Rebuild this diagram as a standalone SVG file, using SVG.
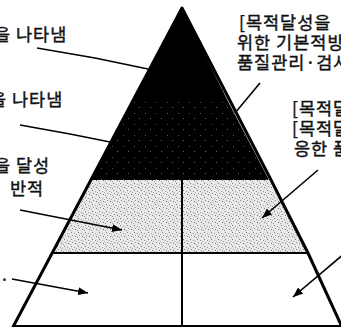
<svg xmlns="http://www.w3.org/2000/svg" width="341" height="327" viewBox="0 0 341 327">
  <defs>
    <pattern id="lightDots" width="7" height="7" patternUnits="userSpaceOnUse">
      <rect width="7" height="7" fill="#e8e8e8"/>
      <rect x="1" y="1" width="1" height="1" fill="#7a7a7a"/>
      <rect x="4" y="2" width="1" height="1" fill="#9a9a9a"/>
      <rect x="2" y="4" width="1" height="1" fill="#8a8a8a"/>
      <rect x="5" y="5" width="1" height="1" fill="#777"/>
      <rect x="6" y="3" width="1" height="1" fill="#aaa"/>
      <rect x="0" y="6" width="1" height="1" fill="#999"/>
    </pattern>
    <pattern id="darkDots" width="11" height="11" patternUnits="userSpaceOnUse">
      <rect width="11" height="11" fill="#000"/>
      <rect x="2" y="3" width="1" height="1" fill="#555"/>
      <rect x="7" y="8" width="1" height="1" fill="#666"/>
    </pattern>
    <marker id="arrow" viewBox="0 0 10 8" refX="10" refY="4" markerWidth="10" markerHeight="8" markerUnits="userSpaceOnUse" orient="auto">
      <path d="M0,0 L10,4 L0,8 Z" fill="#000"/>
    </marker>
    <style>
      .lbl { font-family: "Noto Sans CJK KR", "Liberation Sans", sans-serif; font-size: 17.5px; fill: #111; stroke: #111; stroke-width: 0.4px; letter-spacing: 1px; }
      .edge { stroke: #000; stroke-width: 3; fill: none; stroke-linecap: round; stroke-linejoin: round; }
      .div { stroke: #000; stroke-width: 2; fill: none; }
      .conn { stroke: #000; stroke-width: 1.6; fill: none; }
    </style>
  </defs>
  <rect width="341" height="327" fill="#fff"/>

  <g id="pyramid">
    <g id="tier-top">
      <polygon points="182,8 133.3,100 227.3,100" fill="#000"/>
    </g>
    <g id="tier-upper">
      <polygon points="133.3,100 227.3,100 268,178 268.5,180 90.6,180" fill="url(#darkDots)"/>
    </g>
    <g id="tier-middle">
      <polygon points="90.6,180 268.5,180 308,253 52.2,253" fill="url(#lightDots)"/>
    </g>
    <g id="tier-bottom">
      <polygon points="52.2,253 308,253 341,325 341,326 13,326" fill="#fff"/>
    </g>
    <line class="div" x1="52" y1="253" x2="308" y2="253"/>
    <line class="div" x1="13" y1="326" x2="341" y2="326"/>
    <line class="div" x1="182" y1="179" x2="182" y2="327"/>
    <polyline class="edge" points="13,327 182,8 270,178 308,253 342,327"/>
  </g>

  <g id="connectors">
    <path class="conn" d="M37,48 L95,58 L148,69"/>
    <path class="conn" d="M20,125 L70,134 L110,142"/>
    <path class="conn" d="M20,210 L122,230" marker-end="url(#arrow)"/>
    <path class="conn" d="M12,279 L88,293" marker-end="url(#arrow)"/>
    <path class="conn" d="M260,83 L235,113"/>
    <path class="conn" d="M318,170 L262,218" marker-end="url(#arrow)"/>
    <path class="conn" d="M345,253 L293,297" marker-end="url(#arrow)"/>
  </g>

  <g id="labels-left">
    <text class="lbl" x="-6" y="41">을 나타냄</text>
    <text class="lbl" x="-10" y="106">을 나타냄</text>
    <text class="lbl" x="-6" y="172">을 달성</text>
    <text class="lbl" x="10" y="195">반적</text>
    <text class="lbl" x="2" y="281">.</text>
  </g>
  <g id="labels-right">
    <text class="lbl" x="239" y="29">[목적달성을</text>
    <text class="lbl" x="237" y="49">위한 기본적방</text>
    <text class="lbl" x="237" y="69">품질관리·검사</text>
    <text class="lbl" x="292" y="115">[목적달</text>
    <text class="lbl" x="292" y="135">[목적달</text>
    <text class="lbl" x="294" y="155">응한 품</text>
  </g>
</svg>
